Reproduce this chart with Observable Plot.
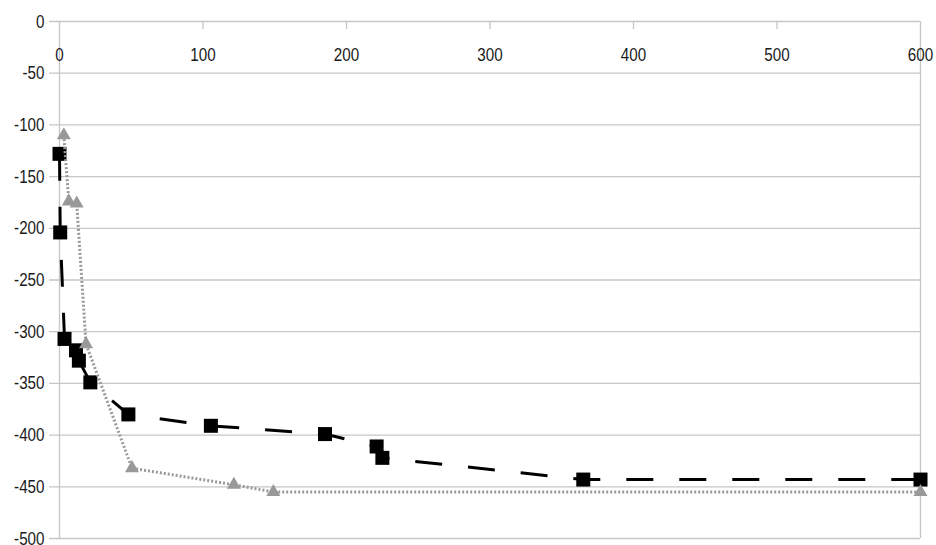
<!DOCTYPE html>
<html><head><meta charset="utf-8">
<script src="https://cdn.jsdelivr.net/npm/d3@7"></script>
<script src="https://cdn.jsdelivr.net/npm/@observablehq/plot@0.6"></script>
<style>body{margin:0;background:#fff}</style>
</head><body><div id="chart"></div>
<script>
const xTicks = [0, 100, 200, 300, 400, 500, 600];
const yTicks = [0, -50, -100, -150, -200, -250, -300, -350, -400, -450, -500];
const seriesAx = [0, 0.5, 3.5, 11.5, 13.5, 21.5, 48, 105.5, 185, 221, 225, 365, 600];
const seriesAy = [-128, -204, -307, -318, -328, -349, -380, -391, -399, -411, -422, -443, -443];
const seriesBx = [3, 6.5, 12, 18.5, 50.5, 121.5, 149, 600];
const seriesBy = [-110, -174, -176, -312, -432, -448, -455, -455];

const W = 936, H = 545, mT = 21, mB = 7, mL = 59, mR = 16;
const grid = "#c6c6c6";
const A = seriesAy.map((y, i) => ({x: seriesAx[i], y}));
const B = seriesBy.map((y, i) => ({x: seriesBx[i], y}));

const chart = Plot.plot({
  width: W, height: H,
  marginTop: mT, marginBottom: mB, marginLeft: mL, marginRight: mR,
  x: {domain: [0, 600], axis: null},
  y: {domain: [-500, 0], axis: null},
  style: {fontFamily: "'Liberation Sans',Arial,sans-serif", fontSize: "19px", background: "#fff"},
  marks: [
    Plot.ruleY(yTicks, {y: d => d, stroke: grid, strokeWidth: 1.3, insetLeft: -10}),
    Plot.ruleX([0, 600], {x: d => d, stroke: grid, strokeWidth: 1.3}),
    Plot.ruleX(xTicks.slice(1, -1), {x: d => d, stroke: grid, strokeWidth: 1.3, insetBottom: H - mT - mB - 8}),
    Plot.text(yTicks, {y: d => d, text: d => String(d), frameAnchor: "left", textAnchor: "end", dx: -15, fill: "#1a1a1a", className: "ylab"}),
    Plot.text(xTicks, {x: d => d, text: d => String(d), frameAnchor: "top", dy: 26, fill: "#1a1a1a", className: "xlab"}),
    Plot.line(A, {x: "x", y: "y", stroke: "#000", strokeWidth: 3, strokeDasharray: "27,26", strokeLinecap: "butt"}),
    Plot.dot(A, {x: "x", y: "y", symbol: "square", r: 7.9, fill: "#000", stroke: "none"}),
    Plot.line(B, {x: "x", y: "y", stroke: "#999", strokeWidth: 3, strokeDasharray: "2,2", strokeLinecap: "butt"}),
    Plot.dot(B, {x: "x", y: "y", symbol: "triangle", r: 5.2, fill: "#999", stroke: "none"})
  ]
});
chart.querySelectorAll(".ylab text, .xlab text").forEach(t => {
  t.setAttribute("transform", (t.getAttribute("transform") || "") + " scale(0.8,1)");
});
document.getElementById("chart").appendChild(chart);
</script>
</body></html>
